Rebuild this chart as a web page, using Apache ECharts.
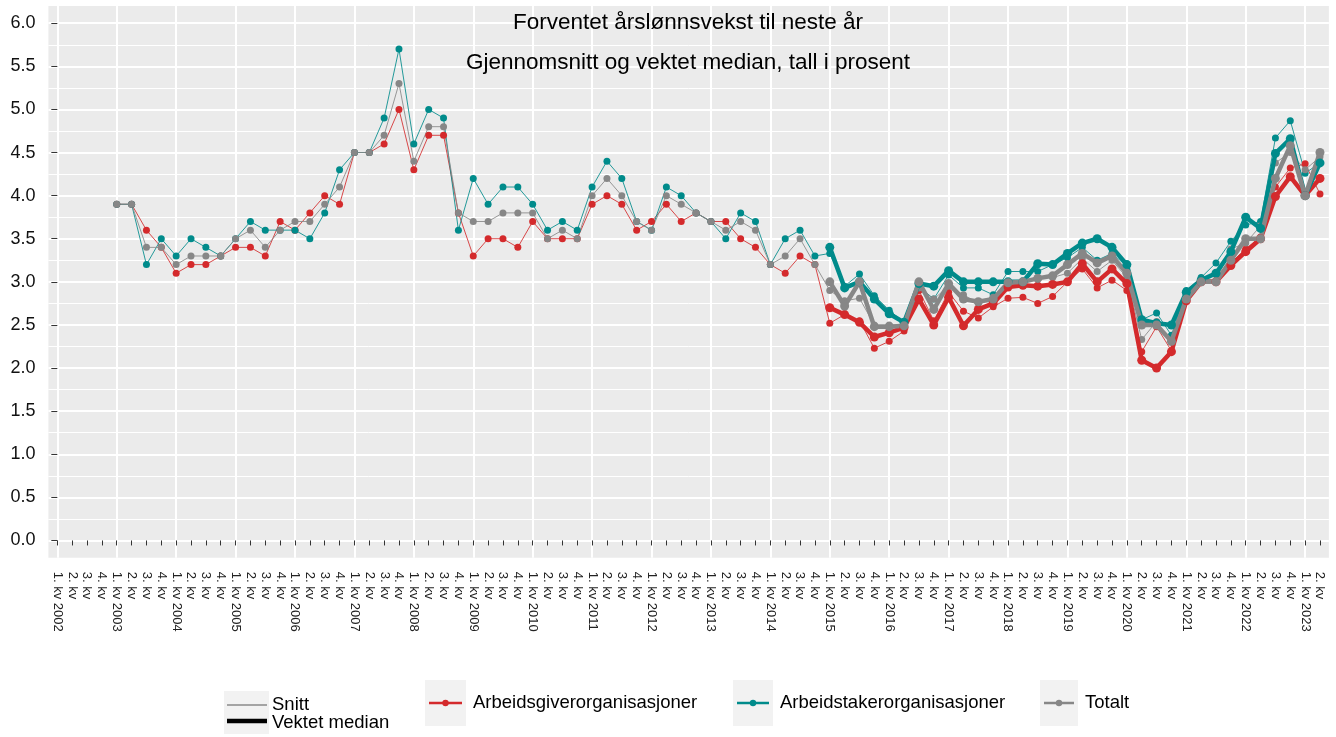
<!DOCTYPE html>
<html>
<head>
<meta charset="utf-8">
<script src="https://cdn.jsdelivr.net/npm/echarts@6/dist/echarts.min.js"></script>
<style>
  html, body { margin: 0; background: #fff; }
  #chart { width: 1336px; height: 737px; }
</style>
</head>
<body>
<div id="chart"></div>
<script>
// Kvartalsetiketter 1. kv 2002 – 2. kv 2023
const firstYear = 2002;
const lastYear = 2023;
const quarterLabels = [];
for (let y = firstYear; y <= lastYear; y++) {
  for (let q = 1; q <= 4; q++) {
    if (y === lastYear && q > 2) break;
    quarterLabels.push(q === 1 ? q + '. kv ' + y : q + '. kv');
  }
}

// Y-akse
const yTicks = [0, 0.5, 1, 1.5, 2, 2.5, 3, 3.5, 4, 4.5, 5, 5.5, 6];
const yMinor = [0.25, 0.75, 1.25, 1.75, 2.25, 2.75, 3.25, 3.75, 4.25, 4.75, 5.25, 5.75];

// Snitt starter 1. kv 2003 (indeks 4), vektet median 1. kv 2015 (indeks 52)
const snittStart = 4;
const medianStart = 52;

const snittArbeidsgiver = [
  3.9, 3.9, 3.6, 3.4,  3.1, 3.2, 3.2, 3.3,  3.4, 3.4, 3.3, 3.7,  3.6, 3.8, 4.0, 3.9,
  4.5, 4.5, 4.6, 5.0,  4.3, 4.7, 4.7, 3.8,  3.3, 3.5, 3.5, 3.4,  3.7, 3.5, 3.5, 3.5,
  3.9, 4.0, 3.9, 3.6,  3.7, 3.9, 3.7, 3.8,  3.7, 3.7, 3.5, 3.4,  3.2, 3.1, 3.3, 3.2,
  2.52, 2.62, 2.55, 2.23,  2.31, 2.43, 2.90, 2.55,  2.88, 2.66, 2.58, 2.71,
  2.81, 2.82, 2.75, 2.83,  3.00, 3.15, 2.93, 3.02,  2.90, 2.19, 2.48, 2.20,
  2.85, 3.02, 3.01, 3.22,  3.38, 3.52, 4.10, 4.32,  4.37, 4.02
];
const snittArbeidstaker = [
  3.9, 3.9, 3.2, 3.5,  3.3, 3.5, 3.4, 3.3,  3.5, 3.7, 3.6, 3.6,  3.6, 3.5, 3.8, 4.3,
  4.5, 4.5, 4.9, 5.7,  4.6, 5.0, 4.9, 3.6,  4.2, 3.9, 4.1, 4.1,  3.9, 3.6, 3.7, 3.6,
  4.1, 4.4, 4.2, 3.7,  3.6, 4.1, 4.0, 3.8,  3.7, 3.5, 3.8, 3.7,  3.2, 3.5, 3.6, 3.3,
  3.33, 2.95, 3.09, 2.84,  2.67, 2.53, 2.95, 2.80,  3.08, 2.93, 2.93, 2.85,
  3.12, 3.12, 3.12, 3.20,  3.28, 3.40, 3.25, 3.33,  3.18, 2.56, 2.64, 2.38,
  2.90, 3.05, 3.22, 3.47,  3.66, 3.70, 4.67, 4.87,  4.26, 4.38
];
const snittTotalt = [
  3.9, 3.9, 3.4, 3.4,  3.2, 3.3, 3.3, 3.3,  3.5, 3.6, 3.4, 3.6,  3.7, 3.7, 3.9, 4.1,
  4.5, 4.5, 4.7, 5.3,  4.4, 4.8, 4.8, 3.8,  3.7, 3.7, 3.8, 3.8,  3.8, 3.5, 3.6, 3.5,
  4.0, 4.2, 4.0, 3.7,  3.6, 4.0, 3.9, 3.8,  3.7, 3.6, 3.7, 3.6,  3.2, 3.3, 3.5, 3.2,
  2.90, 2.78, 2.81, 2.50,  2.50, 2.50, 2.93, 2.80,  2.95, 2.85, 2.75, 2.82,
  2.98, 2.98, 3.05, 3.05,  3.10, 3.27, 3.12, 3.25,  3.05, 2.33, 2.54, 2.30,
  2.88, 3.03, 3.02, 3.38,  3.45, 3.65, 4.38, 4.50,  4.30, 4.45
];

const medianArbeidsgiver = [
  2.70, 2.62, 2.53, 2.36,  2.41, 2.47, 2.80, 2.50,  2.82, 2.49, 2.68, 2.75,
  2.94, 2.96, 2.95, 2.97,  3.00, 3.21, 3.00, 3.15,  2.98, 2.09, 2.00, 2.19,
  2.78, 3.00, 3.00, 3.19,  3.35, 3.50, 3.99, 4.22,  4.00, 4.20
];
const medianArbeidstaker = [
  3.40, 2.93, 3.00, 2.80,  2.63, 2.53, 2.98, 2.95,  3.13, 3.00, 3.00, 3.00,
  3.00, 3.00, 3.21, 3.20,  3.33, 3.45, 3.50, 3.40,  3.20, 2.56, 2.52, 2.50,
  2.88, 3.02, 3.10, 3.35,  3.75, 3.62, 4.49, 4.66,  4.00, 4.38
];
const medianTotalt = [
  3.00, 2.72, 3.00, 2.48,  2.48, 2.49, 3.00, 2.68,  2.98, 2.80, 2.77, 2.80,
  2.99, 3.00, 3.04, 3.07,  3.20, 3.33, 3.22, 3.30,  3.10, 2.50, 2.50, 2.31,
  2.80, 3.00, 3.00, 3.25,  3.50, 3.50, 4.20, 4.58,  4.00, 4.50
];

const groups = ['Arbeidsgiverorganisasjoner', 'Arbeidstakerorganisasjoner', 'Totalt'];
const colors = ['#D42A2C', '#008B8B', '#878787'];

const font = '"Liberation Sans", Arial, sans-serif';

// [indeks, verdi]-par fra en startindeks
const toPairs = (values, start) => values.map((v, k) => [start + k, v]);

const makeSeries = (name, values, start, color, thick) => ({
  name: name,
  type: 'line',
  data: toPairs(values, start),
  symbol: 'circle',
  symbolSize: thick ? 9 : 7,
  showSymbol: true,
  lineStyle: { color: color, width: thick ? 4.5 : 1, opacity: thick ? 1 : 0.85 },
  itemStyle: { color: color },
  z: thick ? 4 : 3,
  animation: false,
});

const series = [
  makeSeries(groups[0], snittArbeidsgiver, snittStart, colors[0], false),
  makeSeries(groups[1], snittArbeidstaker, snittStart, colors[1], false),
  makeSeries(groups[2], snittTotalt, snittStart, colors[2], false),
  makeSeries(groups[0], medianArbeidsgiver, medianStart, colors[0], true),
  makeSeries(groups[1], medianArbeidstaker, medianStart, colors[1], true),
  makeSeries(groups[2], medianTotalt, medianStart, colors[2], true),
];

const allIdx = quarterLabels.map((_, i) => i);
const yearIdx = allIdx.filter((i) => i % 4 === 0);

// Forklaring (legend) tegnet som grafikk
const legendText = (text, x, y) => ({
  type: 'text', z: 100,
  style: { text: text, x: x, y: y, font: '18.5px ' + font, fill: '#000', textVerticalAlign: 'middle' },
});
const legendKey = (x, w, color, label) => [
  { type: 'rect', z: 99, shape: { x: x, y: 680, width: w, height: 46 }, style: { fill: '#F2F2F2' } },
  { type: 'line', z: 100, shape: { x1: x + 4, y1: 703, x2: x + w - 4, y2: 703 }, style: { stroke: color, lineWidth: 2.5 } },
  { type: 'circle', z: 101, shape: { cx: x + w / 2, cy: 703, r: 3.2 }, style: { fill: color } },
  legendText(label, x + w + 7, 703),
];

const graphic = [
  { type: 'text', z: 100, style: { text: 'Forventet årslønnsvekst til neste år', x: 688, y: 23, textAlign: 'center', textVerticalAlign: 'middle', font: '22.5px ' + font, fill: '#000' } },
  { type: 'text', z: 100, style: { text: 'Gjennomsnitt og vektet median, tall i prosent', x: 688, y: 63, textAlign: 'center', textVerticalAlign: 'middle', font: '22.5px ' + font, fill: '#000' } },
  { type: 'rect', z: 99, shape: { x: 224, y: 691, width: 45, height: 43 }, style: { fill: '#F2F2F2' } },
  { type: 'line', z: 100, shape: { x1: 227, y1: 705, x2: 267, y2: 705 }, style: { stroke: '#8a8a8a', lineWidth: 1.5 } },
  { type: 'line', z: 100, shape: { x1: 227, y1: 721, x2: 267, y2: 721 }, style: { stroke: '#000', lineWidth: 4.5 } },
  legendText('Snitt', 272, 705),
  legendText('Vektet median', 272, 723),
  ...legendKey(425, 41, colors[0], groups[0]),
  ...legendKey(733, 40, colors[1], groups[1]),
  ...legendKey(1040, 38, colors[2], groups[2]),
];

const chart = echarts.init(document.getElementById('chart'));

const option = {
  backgroundColor: '#fff',
  animation: false,
  grid: {
    left: 48.4, right: 7.1, top: 6, bottom: 179.3,
    show: true, backgroundColor: '#EBEBEB', borderWidth: 0,
  },
  xAxis: [
    {
      type: 'value', min: -0.6, max: quarterLabels.length - 0.4,
      axisLine: { show: false },
      axisTick: { show: true, length: 5, customValues: allIdx, lineStyle: { color: '#333', width: 1 } },
      axisLabel: {
        customValues: allIdx, rotate: -90, margin: 14, hideOverlap: false,
        formatter: (v) => quarterLabels[Math.round(v)],
        fontFamily: font, fontSize: 13, lineHeight: 13, color: '#222',
      },
      splitLine: { show: false },
    },
    {
      type: 'value', min: -0.6, max: quarterLabels.length - 0.4, position: 'bottom',
      axisLine: { show: false },
      axisTick: { show: false, customValues: yearIdx },
      axisLabel: { show: false, customValues: yearIdx },
      splitLine: { show: true, lineStyle: { color: '#fff', width: 2 } },
    },
  ],
  yAxis: [
    {
      type: 'value', min: -0.2, max: 6.2,
      axisLine: { show: false },
      axisTick: { show: true, length: 6, customValues: yTicks, lineStyle: { color: '#333', width: 1 } },
      axisLabel: {
        customValues: yTicks, margin: 13,
        formatter: (v) => v.toFixed(1),
        fontFamily: font, fontSize: 18, color: '#111',
      },
      splitLine: { show: true, lineStyle: { color: '#fff', width: 2 } },
    },
    {
      type: 'value', min: -0.2, max: 6.2,
      axisLine: { show: false },
      axisTick: { show: false, customValues: yMinor },
      axisLabel: { show: false, customValues: yMinor },
      splitLine: { show: true, lineStyle: { color: '#fff', width: 1 } },
    },
  ],
  series: series,
  graphic: graphic,
};

chart.setOption(option);
</script>
</body>
</html>
